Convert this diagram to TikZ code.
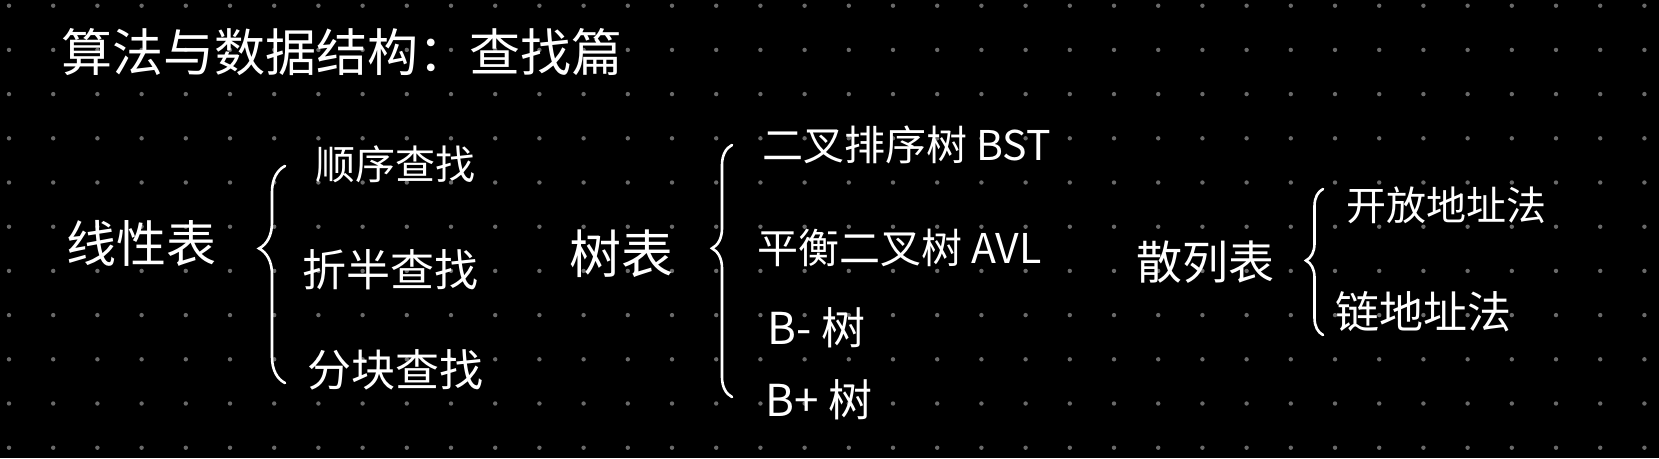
\documentclass[tikz,border=0pt]{standalone}
\usepackage{fontspec}
\newfontfamily\cjk{Noto Sans CJK SC}
\usetikzlibrary{decorations.pathreplacing}
\definecolor{dotgrey}{HTML}{6A6A6A}
\tikzset{
  hand/.style={text=white, anchor=west, inner sep=0pt, font=\cjk\fontsize{#1}{#1}\selectfont},
  curly/.style n args={2}{draw=white, line width=2.6pt, line cap=round, decorate,
    decoration={brace, amplitude=#1, aspect=#2}},
}
\begin{document}
\begin{tikzpicture}[x=1pt, y=-1pt]
  \fill[black] (0,0) rectangle (1659,458);
  \useasboundingbox (0,0) rectangle (1659,458);
  % dot grid
  \foreach \i in {0,...,37}
    \foreach \j in {0,...,10}
      \fill[dotgrey] (9+44.2*\i, 5.7+44.2*\j) circle (2.2pt);
  % title
  \node[hand=51] (title) at (61,52) {算法与数据结构：查找篇};
  % linear tables
  \node[hand=50] (linear) at (66,243) {线性表};
  \node[hand=40] (seq) at (315,164) {顺序查找};
  \node[hand=44] (bin) at (302,270) {折半查找};
  \node[hand=44] (block) at (307,370) {分块查找};
  \draw[curly={26pt}{0.62}] (285,383) -- (285,166);
  % tree tables
  \node[hand=52] (tree) at (569,254) {树表};
  \node[hand=41] (bst) at (762,145) {二叉排序树 BST};
  \node[hand=41] (avl) at (757,248) {平衡二叉树 AVL};
  \node[hand=44] (bminus) at (767,328) {B- 树};
  \node[hand=44] (bplus) at (765,400) {B+ 树};
  \draw[curly={20pt}{0.59}] (732,397) -- (732,145);
  % hash tables
  \node[hand=46] (hash) at (1136,262) {散列表};
  \node[hand=40] (open) at (1346,205) {开放地址法};
  \node[hand=44] (chain) at (1335,312) {链地址法};
  \draw[curly={17pt}{0.51}] (1323,335) -- (1323,189);
\end{tikzpicture}
\end{document}
